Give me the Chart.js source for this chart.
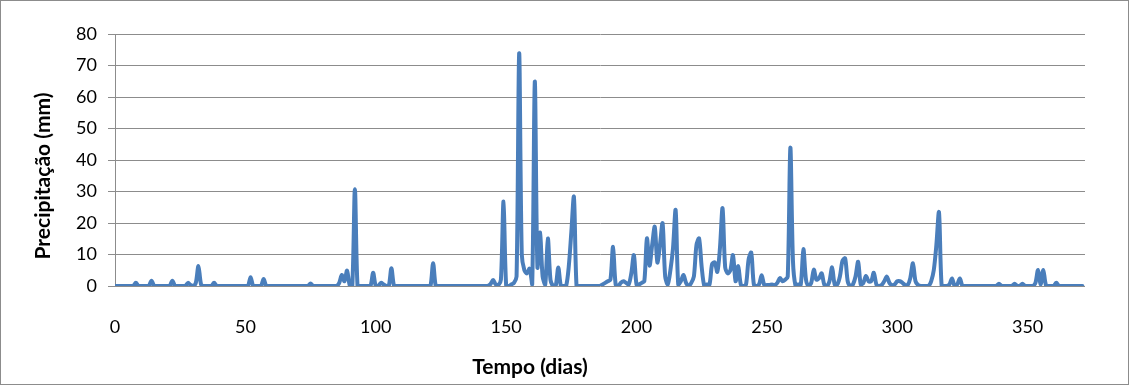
<!DOCTYPE html>
<html>
<head>
<meta charset="utf-8">
<script src="https://cdn.jsdelivr.net/npm/chart.js@4/dist/chart.umd.min.js"></script>
<style>
  html, body { margin: 0; padding: 0; background: #ffffff; }
  #wrap { position: relative; width: 1129px; height: 385px; }
</style>
</head>
<body>
<div id="wrap"><canvas id="chart" width="1129" height="385"></canvas></div>
<script>
// Daily precipitation (mm), one value per day starting at day 0
const precipitation = [
  0, 0, 0, 0, 0, 0, 0, 0, 1, 0,            // 0-9
  0, 0, 0, 0, 1.7, 0, 0, 0, 0, 0,          // 10-19
  0, 0, 1.7, 0, 0, 0, 0, 0, 1, 0.3,        // 20-29
  0, 1, 6.3, 0.5, 0, 0, 0, 0, 1, 0,        // 30-39
  0, 0, 0, 0, 0, 0, 0, 0, 0, 0,            // 40-49
  0, 0, 2.8, 0, 0, 0, 0, 2.2, 0, 0,        // 50-59
  0, 0, 0, 0, 0, 0, 0, 0, 0, 0,            // 60-69
  0, 0, 0, 0, 0, 0.8, 0, 0, 0, 0,          // 70-79
  0, 0, 0, 0, 0, 0, 1, 3.5, 1.5, 4.9,      // 80-89
  0.3, 0, 30.7, 0, 0, 0, 0, 0, 0, 4.2,     // 90-99
  0, 0, 1, 0.5, 0, 0, 5.6, 0, 0, 0,        // 100-109
  0, 0, 0, 0, 0, 0, 0, 0, 0, 0,            // 110-119
  0, 0, 7.2, 0, 0, 0, 0, 0, 0, 0,          // 120-129
  0, 0, 0, 0, 0, 0, 0, 0, 0, 0,            // 130-139
  0, 0, 0, 0, 0.6, 1.9, 0.5, 0.3, 2, 26.8, // 140-149
  0.3, 0, 0.5, 1, 3, 73.9, 10, 5, 4, 5.5,  // 150-159
  0.5, 64.9, 6, 17, 3, 0.5, 15.1, 2, 0, 0, // 160-169
  5.9, 0, 0, 0, 6, 17, 28.3, 0, 0, 0,      // 170-179
  0, 0, 0, 0, 0, 0, 0, 0.5, 1, 1.5,        // 180-189
  2, 12.4, 0.5, 0, 1, 1.5, 1, 0.5, 4, 9.8, // 190-199
  0.5, 0.5, 1, 1.5, 15.1, 6.5, 13, 18.8, 7.5, 13,   // 200-209
  19.9, 3, 0.5, 5, 12, 24.1, 0.5, 1.5, 3.5, 1,      // 210-219
  0, 1, 3, 13, 15.1, 6, 0, 0.5, 0.5, 7,             // 220-229
  7.5, 4.5, 12, 24.7, 6, 4, 5, 9.8, 1.5, 6.3,       // 230-239
  0.5, 0, 0.5, 8.5, 10.6, 0.5, 0, 0.5, 3.4, 0.3,    // 240-249
  0.3, 0.3, 0.5, 0.3, 1, 2.5, 1.5, 2, 3, 43.9,      // 250-259
  8, 0, 0.5, 0.5, 11.7, 2, 0, 1, 5.2, 2,            // 260-269
  2.5, 4, 0.5, 0, 1.5, 5.9, 0.5, 0.5, 3, 8,         // 270-279
  8.8, 1.5, 0, 0.5, 3, 7.7, 0.5, 1, 3.2, 1.5,       // 280-289
  1.5, 4.2, 0.5, 0, 0.3, 1.5, 3, 1, 0.3, 0.5,       // 290-299
  1.5, 1.5, 1, 0.3, 0.3, 2.5, 7.2, 1.5, 0.3, 0,     // 300-309
  0, 0, 0, 1.5, 5, 13, 23.4, 0.3, 0, 0,             // 310-319
  0.5, 2.4, 0, 0.5, 2.4, 0, 0, 0, 0, 0,             // 320-329
  0, 0, 0, 0, 0, 0, 0, 0, 0, 0.7,                   // 330-339
  0, 0, 0, 0, 0, 0.7, 0, 0, 0.7, 0,                 // 340-349
  0, 0, 0, 1, 5.1, 0.5, 5.1, 0.3, 0, 0,             // 350-359
  0, 1, 0, 0, 0, 0, 0, 0, 0, 0,                     // 360-369
  0, 0                                              // 370-371
];

// Axis settings
const xTicks = [0, 50, 100, 150, 200, 250, 300, 350];
const yTicks = [0, 10, 20, 30, 40, 50, 60, 70, 80];
const xTitle = 'Tempo (dias)';
const yTitle = 'Precipitação (mm)';

const points = precipitation.map((v, day) => ({ x: day, y: v }));

const FONT = 'Lato, "Open Sans", "DejaVu Sans", sans-serif';
const GRID = '#8c8c8c';

// Axis titles and the outer frame
const decorations = {
  id: 'decorations',
  afterDraw(chart) {
    const ctx = chart.ctx;
    ctx.save();
    ctx.fillStyle = '#000000';
    ctx.font = 'bold 21px ' + FONT;
    ctx.textAlign = 'center';
    ctx.textBaseline = 'middle';
    ctx.fillText(xTitle, 530, 367);
    ctx.translate(43, 176);
    ctx.rotate(-Math.PI / 2);
    ctx.fillText(yTitle, 0, 0);
    ctx.restore();

    ctx.save();
    ctx.strokeStyle = GRID;
    ctx.lineWidth = 1;
    ctx.strokeRect(0.5, 0.5, chart.width - 1, chart.height - 1);
    ctx.restore();
  }
};

new Chart(document.getElementById('chart'), {
  type: 'line',
  data: {
    datasets: [{
      data: points,
      borderColor: '#4A7EBB',
      borderWidth: 4,
      pointRadius: 0,
      tension: 0.3,
      fill: false,
      borderCapStyle: 'round',
      borderJoinStyle: 'round'
    }]
  },
  options: {
    responsive: false,
    animation: false,
    devicePixelRatio: 1,
    layout: { padding: { top: 34, right: 44, left: 0, bottom: 0 } },
    plugins: { legend: { display: false }, tooltip: { enabled: false } },
    scales: {
      x: {
        type: 'linear',
        min: 0,
        max: 372,
        afterBuildTicks: s => { s.ticks = xTicks.map(v => ({ value: v })); },
        afterFit: s => { s.height = 99; },
        ticks: {
          padding: 30,
          color: '#000000',
          maxRotation: 0,
          autoSkip: false,
          font: { family: FONT, size: 18 }
        },
        grid: { display: false, drawTicks: false },
        border: { display: false }
      },
      y: {
        min: 0,
        max: 80,
        afterBuildTicks: s => { s.ticks = yTicks.map(v => ({ value: v })); },
        afterFit: s => { s.width = 115; },
        ticks: {
          padding: 11,
          color: '#000000',
          font: { family: FONT, size: 18 }
        },
        grid: { color: GRID, lineWidth: 1, tickLength: 7 },
        border: { color: GRID, width: 1 }
      }
    }
  },
  plugins: [decorations]
});
</script>
</body>
</html>
